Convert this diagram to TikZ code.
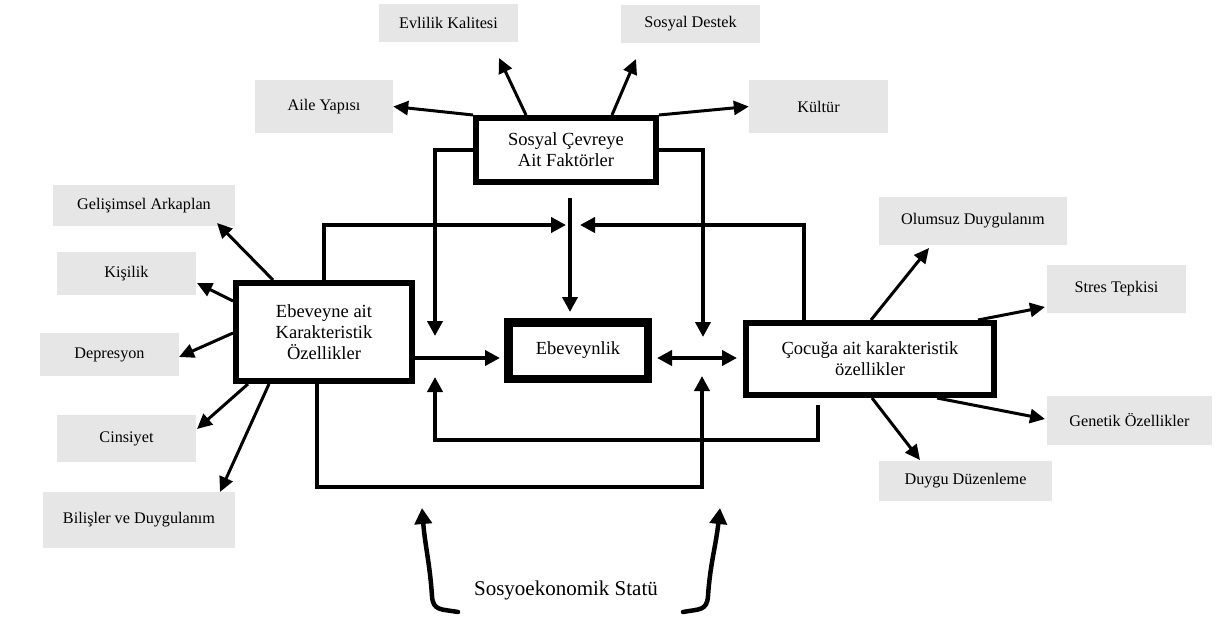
\documentclass[tikz,border=0pt]{standalone}
\usepackage{fontspec}
\setmainfont{Liberation Serif}
\usetikzlibrary{arrows.meta,calc}
\definecolor{boxgray}{RGB}{230,230,230}
\begin{document}
\begin{tikzpicture}[x=1pt,y=-1pt,
  gbox/.style={fill=boxgray, inner sep=0pt, font=\fontsize{16.2}{19}\selectfont, align=center},
  mbox/.style={draw, line width=6pt, fill=white, inner sep=0pt, font=\fontsize{18.5}{21}\selectfont, align=center},
  conn/.style={line width=3.8pt, -{Triangle[length=15pt,width=15pt]}},
  sarr/.style={line width=3pt, -{Triangle[length=15pt,width=14pt]}},
  sesarr/.style={line width=4.5pt, line cap=round, -{Triangle[length=16pt,width=17pt]}},
]
\useasboundingbox (0,0) rectangle (1218,616);

% gray factor boxes
\node[gbox, minimum width=139pt, minimum height=38pt] (evlilik) at (448.5,23) {Evlilik Kalitesi};
\node[gbox, minimum width=139pt, minimum height=38pt] (destek) at (690.5,24) {Sosyal Destek};
\node[gbox, minimum width=138pt, minimum height=53pt] (aile) at (324,106.5) {Aile Yapısı};
\node[gbox, minimum width=139pt, minimum height=53pt] (kultur) at (818.5,106.5) {Kültür};
\node[gbox, minimum width=182pt, minimum height=41pt] (gelisim) at (144,205.5) {Gelişimsel Arkaplan};
\node[gbox, minimum width=139pt, minimum height=43pt] (kisilik) at (126.5,273.5) {Kişilik};
\node[gbox, minimum width=139pt, minimum height=43pt] (depresyon) at (109.5,354.5) {Depresyon};
\node[gbox, minimum width=139pt, minimum height=47pt] (cinsiyet) at (126.5,438.5) {Cinsiyet};
\node[gbox, minimum width=192pt, minimum height=56pt] (bilis) at (139,520) {Bilişler ve Duygulanım};
\node[gbox, minimum width=188pt, minimum height=48pt] (olumsuz) at (973,221) {Olumsuz Duygulanım};
\node[gbox, minimum width=139pt, minimum height=48pt] (stres) at (1116.5,289) {Stres Tepkisi};
\node[gbox, minimum width=165pt, minimum height=49pt] (genetik) at (1129.5,420.5) {Genetik Özellikler};
\node[gbox, minimum width=173pt, minimum height=40pt] (duygu) at (965.5,481) {Duygu Düzenleme};

% main boxes
\node[mbox, minimum width=180pt, minimum height=64pt] (sosyal) at (566,150) {Sosyal Çevreye\\Ait Faktörler};
\node[mbox, minimum width=176pt, minimum height=98pt] (ebeveyne) at (324,332) {Ebeveyne ait\\Karakteristik\\Özellikler};
\node[mbox, line width=8.5pt, minimum width=139.5pt, minimum height=56.5pt] (ebeveynlik) at (578,350.5) {Ebeveynlik};
\node[mbox, minimum width=248pt, minimum height=72pt] (cocuga) at (870,359) {Çocuğa ait karakteristik\\özellikler};
\node[font=\fontsize{21}{25}\selectfont, inner sep=0pt] (ses) at (566,590) {Sosyoekonomik Statü};

% free ends
\coordinate (tEv) at (499,58);
\coordinate (tSd) at (636,59);
\coordinate (tL) at (435,336);
\coordinate (tR) at (703,337);
\coordinate (cTop) at (570,198);
\coordinate (tC) at (570,312);
\coordinate (tH1) at (566,225);
\coordinate (tH2) at (580,225);
\coordinate (cBs) at (818,405);
\coordinate (cB1) at (435,440);
\coordinate (tU1) at (435,377);
\coordinate (cB2) at (702,487);
\coordinate (tU2) at (702,376);
\coordinate (tGe) at (217,223);
\coordinate (tKi) at (197,283);
\coordinate (tDe) at (179,357);
\coordinate (tCi) at (197,429);
\coordinate (tBi) at (220,492);
\coordinate (tOl) at (929,248);
\coordinate (tSt) at (1045,307);
\coordinate (tGn) at (1045,419);
\coordinate (tDu) at (920,460);
\coordinate (sL) at (458,612);
\coordinate (mL) at (432,596);
\coordinate (tS1) at (422,508);
\coordinate (sR) at (683,612);
\coordinate (mR) at (708,596);
\coordinate (tS2) at (720,508);

% arrows from social factors
\draw[sarr] (sosyal.north west) -- (aile.east);
\draw[sarr] ([xshift=-40pt]sosyal.north) -- (tEv);
\draw[sarr] ([xshift=46pt]sosyal.north) -- (tSd);
\draw[sarr] (sosyal.north east) -- (kultur.west);

% main connectors
\draw[conn] (sosyal.west) -| (tL);
\draw[conn] (sosyal.east) -| (tR);
\draw[conn] (cTop) -- (tC);
\draw[conn] (ebeveyne.north) |- (tH1);
\draw[conn] ([xshift=-66pt]cocuga.north) |- (tH2);
\draw[conn, shorten >=4pt] ([yshift=-26pt]ebeveyne.east) -- ([yshift=-26pt]ebeveyne.east -| ebeveynlik.west);
\draw[line width=3.8pt, {Triangle[length=15pt,width=15pt]}-{Triangle[length=15pt,width=15pt]}, shorten <=5pt, shorten >=6pt]
  ([yshift=-7.5pt]ebeveynlik.east) -- ([yshift=-7.5pt]ebeveynlik.east -| cocuga.west);
\draw[conn] (cBs) |- (cB1) -- (tU1);
\draw[conn] ([xshift=-7pt]ebeveyne.south) |- (cB2) -- (tU2);

% parent characteristics
\draw[sarr] ([xshift=-51pt]ebeveyne.north) -- (tGe);
\draw[sarr] ([yshift=31pt]ebeveyne.west) -- (tKi);
\draw[sarr] ([yshift=-1pt]ebeveyne.west) -- (tDe);
\draw[sarr] ([xshift=-76pt]ebeveyne.south) -- (tCi);
\draw[sarr] ([xshift=-55pt]ebeveyne.south) -- (tBi);

% child characteristics
\draw[sarr] ([xshift=1pt]cocuga.north) -- (tOl);
\draw[sarr] ([xshift=108pt]cocuga.north) -- (tSt);
\draw[sarr] ([xshift=67pt]cocuga.south) -- (tGn);
\draw[sarr] ([xshift=2pt]cocuga.south) -- (tDu);

% socioeconomic status
\draw[sesarr] (sL) .. controls (441,609) and (433,611) .. (mL) .. controls (430,565) and (425,545) .. (tS1);
\draw[sesarr] (sR) .. controls (699,609) and (707,611) .. (mR) .. controls (710,565) and (716,545) .. (tS2);
\end{tikzpicture}
\end{document}
